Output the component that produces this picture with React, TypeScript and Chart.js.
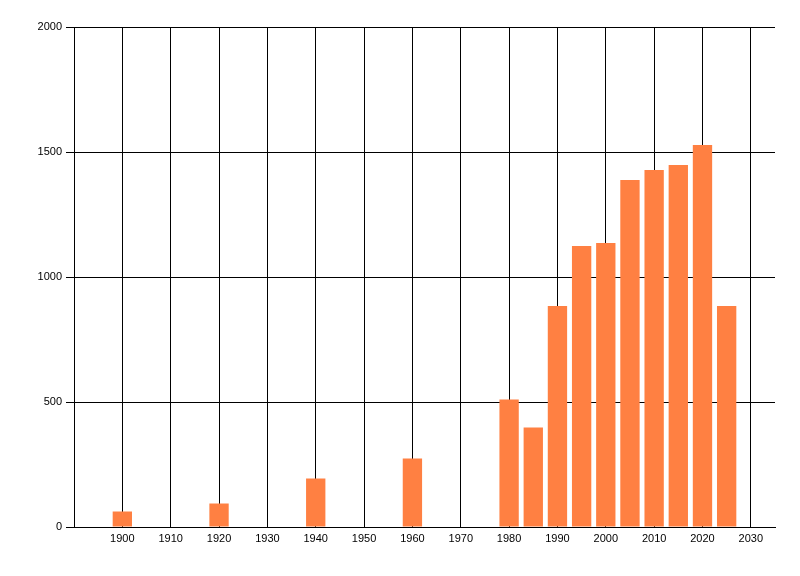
import React, { useEffect, useRef } from "react";
import { Chart, registerables } from "chart.js";

Chart.register(...registerables);

const years = [1900, 1920, 1940, 1960, 1980, 1985, 1990, 1995, 2000, 2005, 2010, 2015, 2020, 2025];
const values = [62, 94, 194, 274, 510, 398, 884, 1124, 1136, 1388, 1428, 1448, 1528, 884];
const xTickValues = [1900, 1910, 1920, 1930, 1940, 1950, 1960, 1970, 1980, 1990, 2000, 2010, 2020, 2030];
const yTickValues = [0, 500, 1000, 1500, 2000];

export default function App() {
  const ref = useRef<HTMLCanvasElement | null>(null);

  useEffect(() => {
    document.body.style.margin = "0";
    const canvas = ref.current;
    if (!canvas) return;
    const font = { family: "'Liberation Sans', Arial, sans-serif", size: 11 };
    const chart = new Chart(canvas, {
      type: "bar",
      data: {
        datasets: [
          {
            data: years.map((y, i) => ({ x: y, y: values[i] })),
            backgroundColor: "#FF8042",
            borderWidth: 0,
            barPercentage: 0.8,
            categoryPercentage: 1,
          },
        ],
      },
      options: {
        animation: false,
        responsive: false,
        devicePixelRatio: 1,
        layout: { padding: { left: 0, top: 27, right: 25, bottom: 0 } },
        plugins: { legend: { display: false }, tooltip: { enabled: false } },
        scales: {
          x: {
            type: "linear",
            min: 1890,
            max: 2035,
            offset: false,
            afterBuildTicks: (axis: any) => {
              axis.ticks = xTickValues.map((v) => ({ value: v }));
            },
            afterFit: (scale: any) => {
              scale.height = 49;
            },
            ticks: {
              color: "#000",
              font,
              padding: 5,
              maxRotation: 0,
              autoSkip: false,
              callback: (v: any) => String(v),
            },
            grid: {
              color: "#000",
              lineWidth: 1,
              drawTicks: false,
              tickLength: 0,
              offset: false,
            },
            border: { display: true, color: "#000", width: 1 },
          },
          y: {
            type: "linear",
            min: 0,
            max: 2000,
            afterBuildTicks: (axis: any) => {
              axis.ticks = yTickValues.map((v) => ({ value: v }));
            },
            afterFit: (scale: any) => {
              scale.width = 74;
            },
            ticks: {
              color: "#000",
              font,
              padding: 4,
              callback: (v: any) => String(v),
            },
            grid: {
              color: "#000",
              lineWidth: 1,
              drawTicks: true,
              tickLength: 8,
            },
            border: { display: true, color: "#000", width: 1 },
          },
        },
      },
    });
    return () => chart.destroy();
  }, []);

  return (
    <div style={{ width: 800, height: 576, background: "#fff" }}>
      <canvas ref={ref} width={800} height={576} style={{ display: "block" }} />
    </div>
  );
}
